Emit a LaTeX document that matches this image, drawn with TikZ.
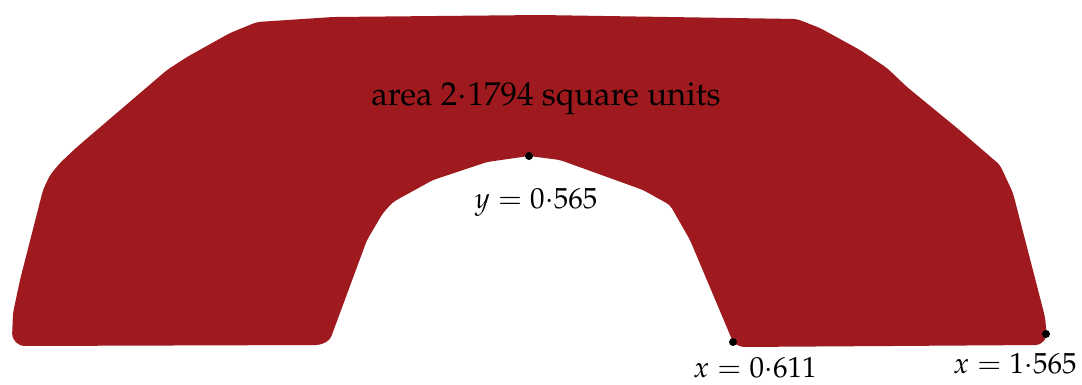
\documentclass[tikz,border=0pt]{standalone}
\usepackage[T1]{fontenc}
\usepackage{mathpazo}
\definecolor{arear}{RGB}{158,26,30}
\begin{document}
\begin{tikzpicture}[x=1pt,y=-1pt,
  dotstyle/.style={circle,fill=black,inner sep=0pt,minimum size=8pt},
  lbl/.style={font=\fontsize{29}{34}\selectfont,inner sep=0pt,anchor=base,text=black}]
\useasboundingbox (0,0) rectangle (1082,384);
\fill[arear,rounded corners=4pt]
  (20,346) -- (12,338) -- (13,313) -- (20,280) -- (43,190) -- (50,175) -- (60,163)
  -- (77,147) -- (167,70) -- (187,57) -- (230,33) -- (257,22) -- (333,17)
  -- (540,15) -- (797,19) -- (820,28) -- (860,50) -- (887,68) -- (907,87)
  -- (957,128) -- (1000,165) -- (1013,193) -- (1045,317) -- (1047,337) -- (1040,345)
  -- (740,347) -- (733,342) -- (690,240) -- (670,205) -- (643,190) -- (560,160)
  -- (529,156) -- (487,162) -- (433,180) -- (393,202) -- (383,213) -- (367,240)
  -- (330,340) -- (320,345) -- cycle;
\node[dotstyle] (top) at (529,156) {};
\node[dotstyle] (left) at (733,342) {};
\node[dotstyle] (right) at (1046,334) {};
\node[lbl,font=\fontsize{33}{38}\selectfont] (area) at (546,105) {area $2{\cdot}1794$ square units};
\node[lbl] (ylab) at (536,208) {$y=0{\cdot}565$};
\node[lbl] (xlab1) at (755,377) {$x=0{\cdot}611$};
\node[lbl] (xlab2) at (1015,373) {$x=1{\cdot}565$};
\end{tikzpicture}
\end{document}
